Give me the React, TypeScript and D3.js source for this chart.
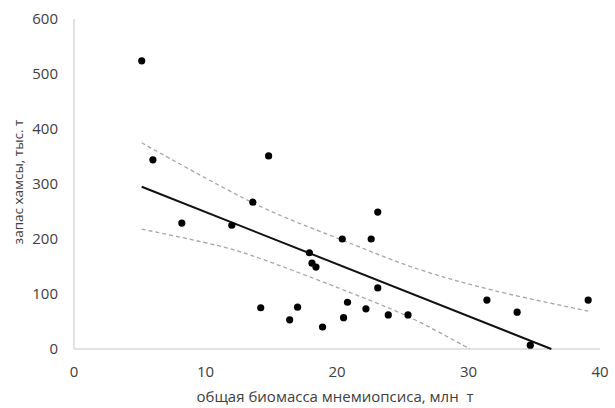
import React from "react";
import * as d3 from "d3";

const width = 615;
const height = 408;
const margin = { top: 19, right: 15, bottom: 59, left: 74 };
const axisGrey = "#d9d9d9";
const textGrey = "#404040";
const bandGrey = "#a6a6a6";

// scatter: biomass of mnemiopsis (x) vs anchovy stock (y)
const biomass = [5.15, 6.0, 8.2, 12.0, 13.6, 14.8, 14.2, 16.4, 17.0, 17.9, 18.1, 18.4, 18.9, 20.4, 20.5, 20.8, 22.2, 22.6, 23.1, 23.1, 23.9, 25.4, 31.4, 33.7, 34.7, 39.1];
const stock = [524, 344, 229, 225, 267, 351, 75, 53, 76, 175, 156, 149, 40, 200, 57, 85, 73, 200, 249, 111, 62, 62, 89, 67, 7, 89];

// regression line ends
const trendX = [5.15, 36.3];
const trendY = [295, 0];

// confidence band
const upperX = [5.15, 14.1, 20.4, 26.2, 32.0, 39.1];
const upperY = [375, 260, 198, 145, 106, 69];
const lowerX = [5.15, 11.6, 14.1, 20.0, 25.5, 30.1];
const lowerY = [218, 184, 165, 112, 58, 0];

const xTicks = [0, 10, 20, 30, 40];
const yTicks = [0, 100, 200, 300, 400, 500, 600];

const xTitle = "общая биомасса мнемиопсиса, млн  т";
const yTitle = "запас хамсы, тыс. т";

export default function App() {
  const x = d3.scaleLinear().domain([0, 40]).range([margin.left, width - margin.right]);
  const y = d3.scaleLinear().domain([0, 600]).range([height - margin.bottom, margin.top]);

  const zip = (a: number[], b: number[]) => a.map((v, i) => [v, b[i]] as [number, number]);
  const straight = d3.line<[number, number]>().x(d => x(d[0])).y(d => y(d[1]));
  const smooth = d3
    .line<[number, number]>()
    .x(d => x(d[0]))
    .y(d => y(d[1]))
    .curve(d3.curveCatmullRom);

  const trendPath = straight(zip(trendX, trendY));
  const upperPath = smooth(zip(upperX, upperY));
  const lowerPath = smooth(zip(lowerX, lowerY));

  const font = "'Open Sans', 'DejaVu Sans', sans-serif";

  return (
    <svg
      width={width}
      height={height}
      style={{ position: "absolute", left: 0, top: 0, background: "#fff" }}
      fontFamily={font}
    >
      {/* axes */}
      <line x1={x(0)} x2={x(0)} y1={y(600)} y2={y(0)} stroke={axisGrey} strokeWidth={1.5} />
      <line x1={x(0)} x2={x(40)} y1={y(0)} y2={y(0)} stroke={axisGrey} strokeWidth={1.5} />

      {yTicks.map(t => (
        <text key={"y" + t} x={x(0) - 16} y={y(t)} dy="0.35em" textAnchor="end" fontSize={15} fill={textGrey}>
          {t}
        </text>
      ))}
      {xTicks.map(t => (
        <text key={"x" + t} x={x(t)} y={y(0) + 23} dy="0.35em" textAnchor="middle" fontSize={15} fill={textGrey}>
          {t}
        </text>
      ))}

      <text
        x={335}
        y={397}
        dy="0.35em"
        textAnchor="middle"
        fontSize={15}
        fill={textGrey}
        style={{ whiteSpace: "pre" }}
      >
        {xTitle}
      </text>
      <text
        transform={`translate(18, 182) rotate(-90)`}
        dy="0.35em"
        textAnchor="middle"
        fontSize={13.5}
        fill={textGrey}
      >
        {yTitle}
      </text>

      {/* confidence band */}
      <path d={upperPath || ""} fill="none" stroke={bandGrey} strokeWidth={1.3} strokeDasharray="4,3" />
      <path d={lowerPath || ""} fill="none" stroke={bandGrey} strokeWidth={1.3} strokeDasharray="4,3" />

      {/* regression */}
      <path d={trendPath || ""} fill="none" stroke="#111" strokeWidth={2} />

      {biomass.map((b, i) => (
        <circle key={i} cx={x(b)} cy={y(stock[i])} r={3.6} fill="#000" />
      ))}
    </svg>
  );
}
